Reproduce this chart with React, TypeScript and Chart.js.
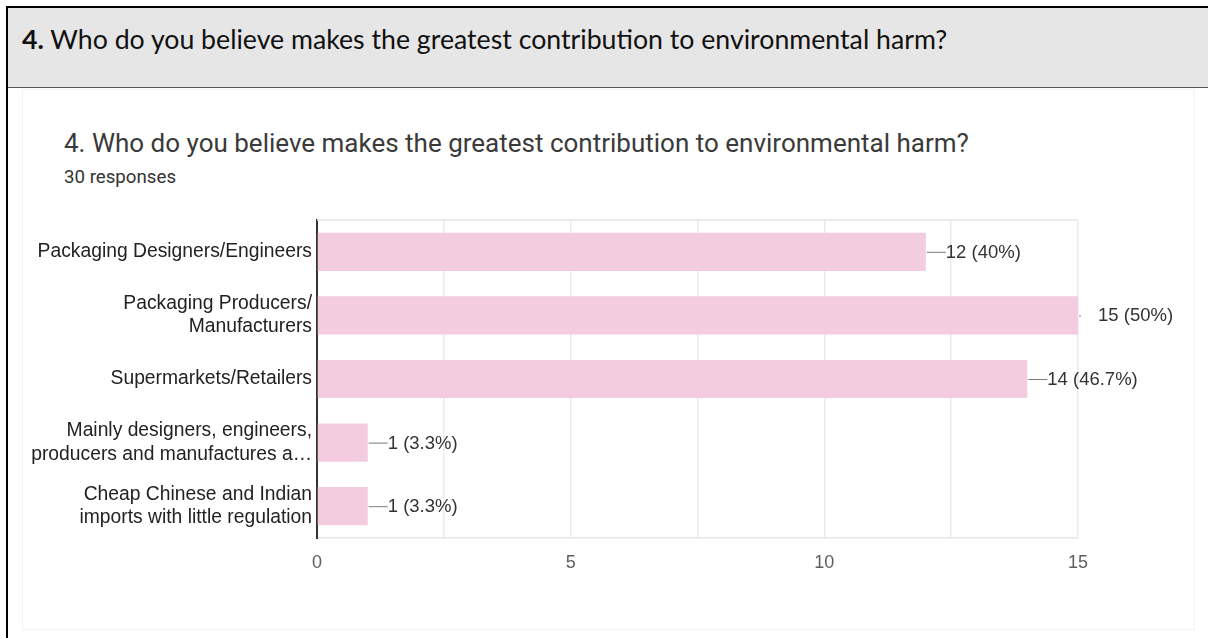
import React, { useEffect, useRef } from "react";
import { Chart, registerables } from "chart.js";

Chart.register(...registerables);

const headerNumber = "4.";
const headerText = " Who do you believe makes the greatest contribution to environmental harm?";
const chartTitle = "4. Who do you believe makes the greatest contribution to environmental harm?";
const chartSubtitle = "30 responses";

const categories: (string | string[])[] = [
  "Packaging Designers/Engineers",
  ["Packaging Producers/", "Manufacturers"],
  "Supermarkets/Retailers",
  ["Mainly designers, engineers,", "producers and manufactures a…"],
  ["Cheap Chinese and Indian", "imports with little regulation"],
];
const counts = [12, 15, 14, 1, 1];
const percents = ["40%", "50%", "46.7%", "3.3%", "3.3%"];
const xTickValues = [0, 5, 10, 15];

const BAR_COLOR = "#f3cce0";
const LABEL_FONT = "Liberation Sans, Arial, sans-serif";

const frameAndLabels = {
  id: "frameAndLabels",
  beforeDatasetsDraw(chart: any) {
    const { ctx, chartArea } = chart;
    ctx.save();
    ctx.strokeStyle = "#e6e6e6";
    ctx.lineWidth = 1.5;
    ctx.beginPath();
    ctx.moveTo(chartArea.left, chartArea.top);
    ctx.lineTo(chartArea.right, chartArea.top);
    ctx.stroke();
    ctx.restore();
  },
  afterDatasetsDraw(chart: any) {
    const { ctx } = chart;
    const meta = chart.getDatasetMeta(0);
    const xMax = chart.scales.x.max;
    ctx.save();
    ctx.font = `18.5px ${LABEL_FONT}`;
    ctx.textBaseline = "middle";
    ctx.textAlign = "left";
    meta.data.forEach((bar: any, i: number) => {
      const x = bar.x;
      const y = bar.y;
      ctx.strokeStyle = "#7a7a7a";
      ctx.lineWidth = 1;
      ctx.beginPath();
      ctx.moveTo(x + 1, y + 0.5);
      ctx.lineTo(counts[i] >= xMax ? x + 3 : x + 20, y + 0.5);
      ctx.stroke();
      ctx.fillStyle = "#333333";
      ctx.fillText(`${counts[i]} (${percents[i]})`, x + 20, y + 1);
    });
    ctx.restore();
  },
};

export default function App() {
  const canvasRef = useRef<HTMLCanvasElement | null>(null);

  useEffect(() => {
    if (!canvasRef.current) return;
    const chart = new Chart(canvasRef.current, {
      type: "bar",
      data: {
        labels: categories,
        datasets: [
          {
            data: counts,
            backgroundColor: BAR_COLOR,
            borderWidth: 0,
            barPercentage: 0.6,
            categoryPercentage: 1,
          },
        ],
      },
      options: {
        indexAxis: "y",
        animation: false,
        responsive: false,
        maintainAspectRatio: false,
        layout: { padding: { left: 0, right: 130, top: 20, bottom: 0 } },
        plugins: {
          legend: { display: false },
          tooltip: { enabled: false },
          title: { display: false },
        },
        scales: {
          x: {
            min: 0,
            max: 15,
            afterFit: (scale: any) => {
              scale.height = 62;
            },
            afterBuildTicks: (scale: any) => {
              const t: any[] = [];
              for (let v = 0; v <= 15; v += 2.5) t.push({ value: v });
              scale.ticks = t;
            },
            ticks: {
              autoSkip: false,
              padding: 14,
              color: "#5f5f5f",
              font: { family: LABEL_FONT, size: 18 },
              callback: (v: any) => (xTickValues.includes(Number(v)) ? String(v) : ""),
            },
            grid: { color: "#ebebeb", lineWidth: 1.5, drawTicks: false },
            border: { display: true, color: "#e6e6e6", width: 1.5 },
          },
          y: {
            afterFit: (scale: any) => {
              scale.width = 309;
              scale.paddingTop = 0;
              scale.paddingBottom = 0;
            },
            ticks: {
              padding: 5,
              color: "#222222",
              font: { family: LABEL_FONT, size: 19.3, lineHeight: 1.2 },
            },
            grid: { display: false, drawTicks: false },
            border: { display: true, color: "#333333", width: 2 },
          },
        },
      },
      plugins: [frameAndLabels],
    });
    return () => chart.destroy();
  }, []);

  return (
    <div
      style={{
        position: "fixed",
        left: 0,
        top: 0,
        width: 1208,
        height: 638,
        background: "#ffffff",
        overflow: "hidden",
      }}
    >
      <div
        style={{
          position: "absolute",
          left: 6,
          top: 6,
          width: 1250,
          height: 700,
          border: "2px solid #000",
          boxSizing: "border-box",
        }}
      />
      <div
        style={{
          position: "absolute",
          left: 8,
          top: 8,
          width: 1200,
          height: 80,
          background: "#e6e6e6",
          borderBottom: "1.5px solid #555",
          boxSizing: "border-box",
        }}
      >
        <div
          style={{
            position: "absolute",
            left: 14,
            top: 15,
            fontFamily: "Lato, 'Open Sans', sans-serif",
            fontSize: 26.7,
            color: "#111",
            whiteSpace: "nowrap",
            lineHeight: "32px",
          }}
        >
          <b>{headerNumber}</b>
          {headerText}
        </div>
      </div>
      <div
        style={{
          position: "absolute",
          left: 22,
          top: 89,
          width: 1173,
          height: 541,
          border: "1px solid #f3f3f3",
          boxSizing: "border-box",
        }}
      />
      <div
        style={{
          position: "absolute",
          left: 64,
          top: 126,
          fontFamily: "Roboto, Arial, sans-serif",
          fontSize: 26,
          color: "#3a3a3a",
          whiteSpace: "nowrap",
          lineHeight: "34px",
        }}
      >
        {chartTitle}
      </div>
      <div
        style={{
          position: "absolute",
          left: 64,
          top: 165,
          fontFamily: "Roboto, Arial, sans-serif",
          fontSize: 18.7,
          color: "#333333",
          whiteSpace: "nowrap",
          lineHeight: "24px",
        }}
      >
        {chartSubtitle}
      </div>
      <canvas
        ref={canvasRef}
        width={1200}
        height={400}
        style={{ position: "absolute", left: 8, top: 200, width: 1200, height: 400 }}
      />
    </div>
  );
}
